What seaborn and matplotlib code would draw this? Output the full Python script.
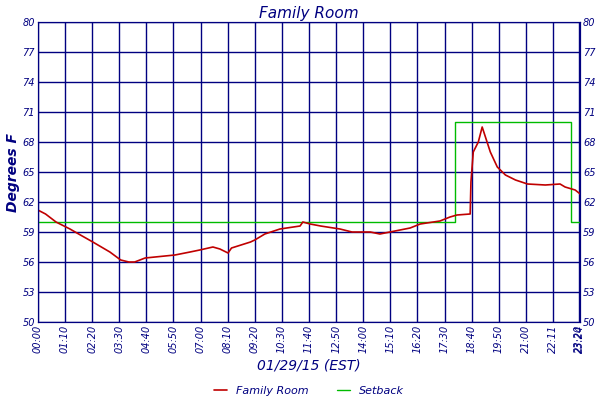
import pandas as pd
import matplotlib
matplotlib.use("Agg")
import matplotlib.pyplot as plt
import seaborn as sns

# Family Room readings (minutes since midnight, deg F)
room_min = [0, 20, 47, 83, 110, 142, 186, 214, 235, 250, 277, 354, 393, 418, 452, 470, 491, 500, 549, 560,
            586, 625, 677, 684, 703, 730, 780, 811, 858, 883, 909, 961, 987, 1038, 1064, 1082, 1116, 1118,
            1124, 1137, 1147, 1168, 1186, 1207, 1233, 1264, 1310, 1348, 1361, 1387, 1400]
room_f = [61.2, 60.8, 60.0, 59.3, 58.7, 58.0, 57.0, 56.2, 56.0, 56.0, 56.4, 56.7, 57.0, 57.2, 57.5, 57.3,
          56.9, 57.4, 58.0, 58.2, 58.8, 59.3, 59.6, 60.0, 59.8, 59.6, 59.3, 59.0, 59.0, 58.8, 59.0, 59.4,
          59.8, 60.1, 60.5, 60.7, 60.8, 64.0, 67.0, 68.0, 69.5, 67.0, 65.5, 64.7, 64.2, 63.8, 63.7, 63.8,
          63.5, 63.2, 62.8]

setback_min = [0, 1078, 1078, 1375, 1375, 1400]
setback_f = [60, 60, 70, 70, 60, 60]

tick_min = list(range(0, 1331, 70)) + [1398, 1400]
tick_lab = ["00:00", "01:10", "02:20", "03:30", "04:40", "05:50", "07:00", "08:10", "09:20", "10:30",
            "11:40", "12:50", "14:00", "15:10", "16:20", "17:30", "18:40", "19:50", "21:00", "22:11",
            "23:20", "23:24"]
y_ticks = list(range(50, 81, 3))

navy = "#000080"
sns.set_style("white")
fig, ax = plt.subplots(figsize=(6, 4), dpi=100)
fig.subplots_adjust(left=0.063, right=0.967, top=0.945, bottom=0.195)

room = pd.DataFrame({"t": room_min, "f": room_f})
st = pd.DataFrame({"t": setback_min, "f": setback_f})
sns.lineplot(data=st, x="t", y="f", ax=ax, color="#00bb00", lw=1, sort=False, label="Setback", estimator=None)
sns.lineplot(data=room, x="t", y="f", ax=ax, color="#c00000", lw=1.2, sort=False, label="Family Room",
             estimator=None)

ax.set_xlim(0, 1400)
ax.set_ylim(50, 80)
ax.set_xticks(tick_min)
ax.set_xticklabels(tick_lab, rotation=90, fontsize=7, style="italic", color=navy)
ax.set_yticks(y_ticks)
ax.set_yticklabels(y_ticks, fontsize=7, style="italic", color=navy)
ax.grid(True, color=navy, lw=1)
ax.tick_params(length=0, pad=2)
for s in ax.spines.values():
    s.set_color(navy)
ax2 = ax.twinx()
ax2.set_ylim(50, 80)
ax2.set_yticks(y_ticks)
ax2.set_yticklabels(y_ticks, fontsize=7, style="italic", color=navy)
ax2.tick_params(length=0, pad=2)
for s in ax2.spines.values():
    s.set_color(navy)

ax.set_title("Family Room", fontsize=11, style="italic", color=navy, pad=3)
ax.set_xlabel("01/29/15 (EST)", fontsize=10, style="italic", color=navy, labelpad=4)
ax.set_ylabel("Degrees F", fontsize=10, style="italic", weight="bold", color=navy, labelpad=2)

h, l = ax.get_legend_handles_labels()
ax.legend(h[::-1], l[::-1], loc="upper center", bbox_to_anchor=(0.5, -0.19), ncol=2, frameon=False,
          prop={"style": "italic", "size": 8}, handlelength=1.2, columnspacing=2.5, labelcolor=navy,
          borderpad=0.1)

fig.savefig("out.png")
